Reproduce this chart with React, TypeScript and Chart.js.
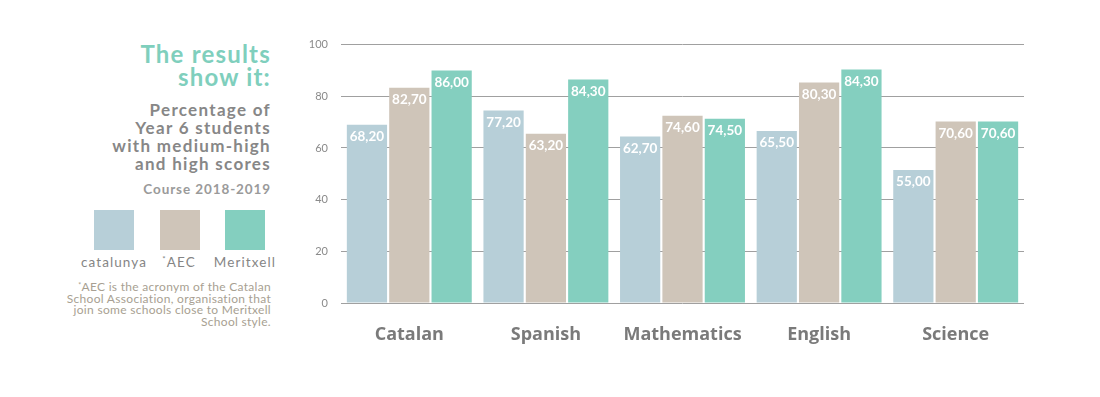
import React, { useEffect, useRef } from "react";
import { Chart, registerables } from "chart.js";

Chart.register(...registerables);

const categories = ["Catalan", "Spanish", "Mathematics", "English", "Science"];
const seriesNames = ["catalunya", "*AEC", "Meritxell"];
// Bar heights as drawn in the picture
const catalunyaValues = [69.0, 74.5, 64.4, 66.6, 51.5];
const aecValues = [83.3, 65.5, 72.5, 85.3, 70.2];
const meritxellValues = [90.0, 86.5, 71.3, 90.4, 70.2];
// Labels printed on the bars
const catalunyaLabels = ["68,20", "77,20", "62,70", "65,50", "55,00"];
const aecLabels = ["82,70", "63,20", "74,60", "80,30", "70,60"];
const meritxellLabels = ["86,00", "84,30", "74,50", "84,30", "70,60"];
const yTicks = [0, 20, 40, 60, 80, 100];

const colors = ["#b7cfd8", "#cfc5b9", "#84cfbf"];
const FONT = "Lato, 'Open Sans', 'Noto Sans', sans-serif";
const WIDE = "'Open Sans', 'Noto Sans', sans-serif";

const barLabelPlugin = {
  id: "barLabels",
  afterDatasetsDraw(chart: any) {
    const ctx = chart.ctx;
    const all = [catalunyaLabels, aecLabels, meritxellLabels];
    ctx.save();
    ctx.fillStyle = "#ffffff";
    ctx.font = `bold 13.5px ${FONT}`;
    ctx.textAlign = "center";
    ctx.textBaseline = "middle";
    chart.data.datasets.forEach((_: any, di: number) => {
      const meta = chart.getDatasetMeta(di);
      meta.data.forEach((el: any, i: number) => {
        ctx.fillText(all[di][i], el.x, el.y + 12);
      });
    });
    ctx.restore();
  },
};

export default function App() {
  const ref = useRef<HTMLCanvasElement | null>(null);

  useEffect(() => {
    if (!ref.current) return;
    const values = [catalunyaValues, aecValues, meritxellValues];
    const chart = new Chart(ref.current, {
      type: "bar",
      data: {
        labels: categories,
        datasets: seriesNames.map((name, i) => ({
          label: name,
          data: values[i],
          backgroundColor: colors[i],
          borderWidth: 0,
          categoryPercentage: 0.93,
          barPercentage: 0.95,
        })),
      },
      options: {
        responsive: false,
        maintainAspectRatio: false,
        animation: false,
        devicePixelRatio: 1,
        layout: { padding: { top: 0, right: 16, left: 0, bottom: 0 } },
        plugins: {
          legend: { display: false },
          tooltip: { enabled: false },
        },
        scales: {
          x: {
            grid: { display: false, drawTicks: false },
            border: { display: false },
            ticks: {
              color: "#7a7a7a",
              font: { family: WIDE, size: 18, weight: "bold" },
              padding: 21,
            },
            afterFit: (scale: any) => {
              scale.height = 57;
            },
          },
          y: {
            min: 0,
            max: 100,
            afterBuildTicks: (scale: any) => {
              scale.ticks = yTicks.map((v) => ({ value: v }));
            },
            grid: { color: "#a0a0a0", lineWidth: 1, drawTicks: false },
            border: { display: false },
            ticks: {
              color: "#8a8a8a",
              font: { family: FONT, size: 11 },
              padding: 13,
            },
            afterFit: (scale: any) => {
              scale.width = 51;
            },
          },
        },
      },
      plugins: [barLabelPlugin],
    });
    return () => chart.destroy();
  }, []);

  const rightEdge = 1100 - 271;

  return (
    <div
      style={{
        position: "absolute",
        left: 0,
        top: 0,
        width: 1100,
        height: 397,
        background: "#fff",
        fontFamily: FONT,
        overflow: "hidden",
      }}
    >
      <div
        style={{
          position: "absolute",
          right: rightEdge,
          top: 42,
          textAlign: "right",
          color: "#7fcfbd",
          fontWeight: 700,
          fontSize: 24,
          lineHeight: "23px",
          letterSpacing: 1.2,
          whiteSpace: "nowrap",
        }}
      >
        The results
        <br />
        show it:
      </div>
      <div
        style={{
          position: "absolute",
          right: rightEdge,
          top: 101,
          textAlign: "right",
          color: "#878787",
          fontWeight: 700,
          fontSize: 17,
          lineHeight: "18px",
          letterSpacing: 1.3,
          whiteSpace: "nowrap",
        }}
      >
        Percentage of
        <br />
        Year 6 students
        <br />
        with medium-high
        <br />
        and high scores
      </div>
      <div
        style={{
          position: "absolute",
          right: rightEdge,
          top: 181,
          textAlign: "right",
          color: "#9a9a9a",
          fontWeight: 700,
          fontSize: 13.5,
          lineHeight: "16px",
          letterSpacing: 0.9,
          whiteSpace: "nowrap",
        }}
      >
        Course 2018-2019
      </div>
      {seriesNames.map((name, i) => {
        const lefts = [94, 160, 225];
        const labelCenters = [114, 179, 245];
        return (
          <React.Fragment key={name}>
            <div
              style={{
                position: "absolute",
                left: lefts[i],
                top: 210,
                width: 40,
                height: 40,
                background: colors[i],
              }}
            />
            <div
              style={{
                position: "absolute",
                left: labelCenters[i] - 50,
                width: 100,
                top: 254,
                textAlign: "center",
                color: "#858585",
                fontSize: 13.5,
                lineHeight: "16px",
                letterSpacing: 1.1,
              }}
            >
              {name.startsWith("*") ? (
                <>
                  <sup style={{ fontSize: 8, verticalAlign: "top", lineHeight: "10px" }}>*</sup>
                  {name.slice(1)}
                </>
              ) : (
                name
              )}
            </div>
          </React.Fragment>
        );
      })}
      <div
        style={{
          position: "absolute",
          right: rightEdge,
          top: 281,
          textAlign: "right",
          color: "#a89f92",
          fontSize: 12,
          lineHeight: "11.7px",
          letterSpacing: 0.3,
          whiteSpace: "nowrap",
        }}
      >
        <sup style={{ fontSize: 7, verticalAlign: "top", lineHeight: "8px" }}>*</sup>AEC is the acronym of the Catalan
        <br />
        School Association, organisation that
        <br />
        join some schools close to Meritxell
        <br />
        School style.
      </div>
      <canvas
        ref={ref}
        width={750}
        height={335}
        style={{ position: "absolute", left: 290, top: 25, width: 750, height: 335 }}
      />
    </div>
  );
}
